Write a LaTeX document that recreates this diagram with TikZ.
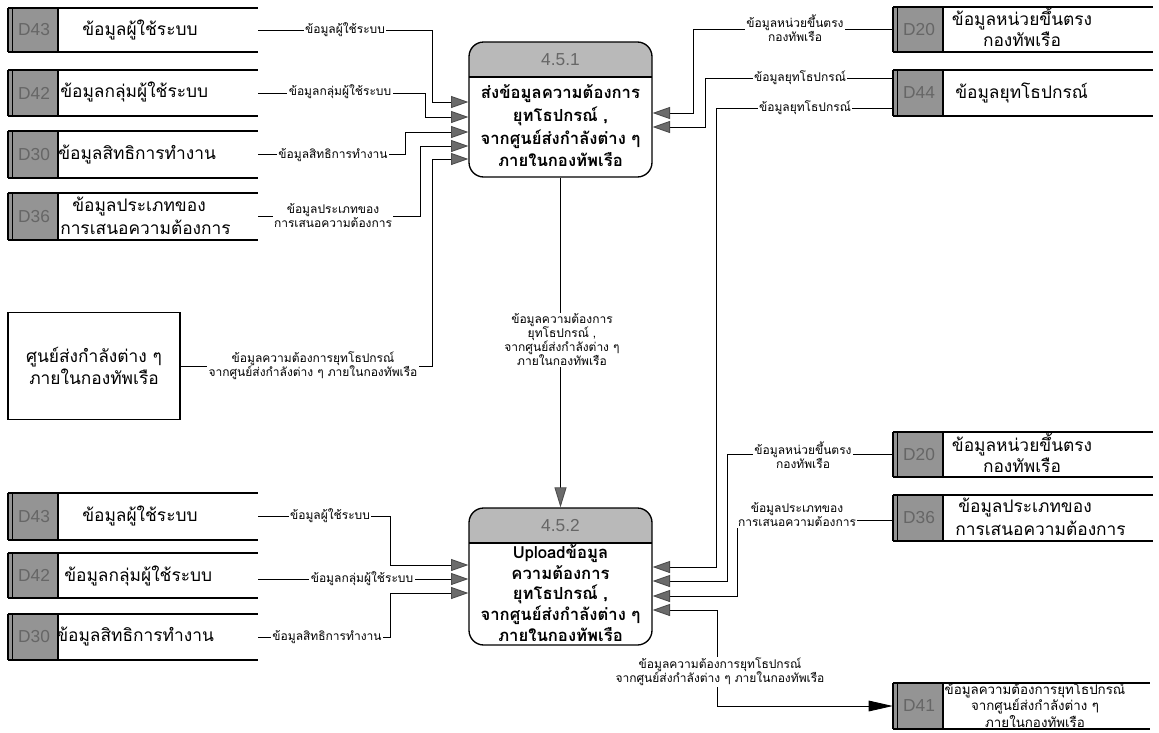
\documentclass[tikz,border=0pt]{standalone}
\usepackage{fontspec}
\setmainfont{Loma}[Script=Thai]
\newfontfamily\idfont{Liberation Sans}
\usetikzlibrary{arrows.meta}
\definecolor{idgray}{gray}{0.58}
\definecolor{arrgray}{gray}{0.42}
\tikzset{
  flow/.style={draw=black, line width=0.65pt},
  arr/.style={-{Triangle[length=13pt,width=9pt,fill=arrgray,color=arrgray!70!black]}},
  arrbig/.style={-{Triangle[length=15pt,width=9pt,fill=arrgray,color=arrgray!70!black]}},
  lab/.style={fill=white, inner sep=1pt, align=center, font=\fontsize{9}{10.5}\selectfont},
  stname/.style={anchor=west, inner sep=0pt, font=\fontsize{13}{16}\selectfont},
  stc/.style={inner sep=0pt, align=center, font=\fontsize{13}{16}\selectfont},
  idlab/.style={inner sep=0pt, text=black!60, font=\idfont\fontsize{13}{13}\selectfont},
  ptext/.style={inner sep=0pt, align=center, font=\bfseries\fontsize{12.5}{17}\selectfont},
}
% #1 name, #2 id, #3 xleft, #4 xright, #5 ytop, #6 ybottom
\newcommand{\dstore}[6]{%
  \fill[idgray] (#3,#5) rectangle ({#3+50},#6);
  \draw[line width=0.8pt] ({#3+50},#5) -- ({#3+50},#6);
  \draw[line width=1.4pt] (#3,#5) -- (#3,#6);
  \draw[line width=0.6pt] ({#3+4},#5) -- ({#3+4},#6);
  \draw[line width=1.4pt] (#3,#5) -- (#4,#5) (#3,#6) -- (#4,#6);
  \node[idlab] (#1-id) at ({#3+26},{(#5+#6)/2}) {#2};
  \node[inner sep=0pt, minimum width={(#4-#3)*0.75pt}, minimum height={(#6-#5)*0.75pt}] (#1) at ({(#3+#4)/2},{(#5+#6)/2}) {};
}
% #1 name, #2 x1, #3 y1, #4 x2, #5 y2, #6 yheader, #7 number
\newcommand{\procbox}[7]{%
  \begin{scope}
    \clip[rounded corners=11pt] (#2,#3) rectangle (#4,#5);
    \fill[gray!55] (#2,#3) rectangle (#4,#6);
  \end{scope}
  \draw[line width=1pt] (#2,#6) -- (#4,#6);
  \node[draw, line width=1pt, rounded corners=11pt, inner sep=0pt, minimum width={(#4-#2)*0.75pt}, minimum height={(#5-#3)*0.75pt}] (#1) at ({(#2+#4)/2},{(#3+#5)/2}) {};
  \node[idlab, text=black!60, font=\idfont\fontsize{13}{13}\selectfont] (#1-num) at ({(#2+#4)/2},{(#3+#6)/2}) {#7};
}
\begin{document}
\begin{tikzpicture}[x=0.75pt,y=-0.75pt]
\useasboundingbox[fill=white] (0,0) rectangle (1159,732);

% ---------- data stores ----------
\dstore{L43}{D43}{8}{258}{8}{52}
\dstore{L42}{D42}{8}{258}{70}{116}
\dstore{L30}{D30}{8}{258}{131}{178}
\dstore{L36}{D36}{8}{258}{193}{240}
\dstore{B43}{D43}{8}{258}{493}{540}
\dstore{B42}{D42}{8}{258}{553}{598}
\dstore{B30}{D30}{8}{258}{614}{660}
\dstore{R20}{D20}{893}{1153}{7}{52}
\dstore{R44}{D44}{893}{1153}{70}{116}
\dstore{M20}{D20}{893}{1153}{432}{477}
\dstore{M36}{D36}{893}{1153}{495}{541}
\dstore{D41}{D41}{893}{1150}{683}{729}

\node[stname] (L43-t) at (82,30) {ข้อมูลผู้ใช้ระบบ};
\node[stname] (L42-t) at (60,92) {ข้อมูลกลุ่มผู้ใช้ระบบ};
\node[stname] (L30-t) at (58,155) {ข้อมูลสิทธิการทำงาน};
\node[stname] (L36-t1) at (72,207) {ข้อมูลประเภทของ};
\node[stname] (L36-t2) at (60,227) {การเสนอความต้องการ};
\node[stname] (B43-t) at (82,516) {ข้อมูลผู้ใช้ระบบ};
\node[stname] (B42-t) at (64,576) {ข้อมูลกลุ่มผู้ใช้ระบบ};
\node[stname] (B30-t) at (56,637) {ข้อมูลสิทธิการทำงาน};
\node[stc] (R20-t) at (1022,27) {ข้อมูลหน่วยขึ้นตรง\\กองทัพเรือ};
\node[stname] (R44-t) at (955,93) {ข้อมูลยุทโธปกรณ์};
\node[stc] (M20-t) at (1022,453) {ข้อมูลหน่วยขึ้นตรง\\กองทัพเรือ};
\node[stname] (M36-t1) at (958,508) {ข้อมูลประเภทของ};
\node[stname] (M36-t2) at (955,528) {การเสนอความต้องการ};
\node[stc, font=\fontsize{10}{11.5}\selectfont] (D41-t) at (1035,705) {ข้อมูลความต้องการยุทโธปกรณ์\\จากศูนย์ส่งกำลังต่าง ๆ\\ภายในกองทัพเรือ};

% ---------- external entity ----------
\node[draw, line width=0.9pt, inner sep=0pt, minimum width={172*0.75pt}, minimum height={107*0.75pt}, align=center, font=\fontsize{13}{17}\selectfont] (ext) at (94,366) {ศูนย์ส่งกำลังต่าง ๆ\\ภายในกองทัพเรือ};

% ---------- processes ----------
\procbox{p1}{469}{42}{652}{177}{77}{4.5.1}
\node[ptext] (p1-t) at (560.5,126) {ส่งข้อมูลความต้องการ\\ยุทโธปกรณ์ ,\\จากศูนย์ส่งกำลังต่าง ๆ\\ภายในกองทัพเรือ};
\procbox{p2}{469}{508}{652}{645}{543}{4.5.2}
\node[ptext, font=\bfseries\fontsize{12.5}{15.5}\selectfont] (p2-t) at (560.5,593) {Uploadข้อมูล\\ความต้องการ\\ยุทโธปกรณ์ ,\\จากศูนย์ส่งกำลังต่าง ๆ\\ภายในกองทัพเรือ};

% ---------- flows into 4.5.1 ----------
\draw[flow,arr] (L43.east) -| (432,102) -- (p1.west |- 432,102);
\draw[flow,arr] (L42.east) -| (425,117) -- (p1.west |- 425,117);
\draw[flow,arr] (L30.east) -| (405,132) -- (p1.west |- 405,132);
\draw[flow,arr] (L36.east) -| (420,146) -- (p1.west |- 420,146);
\draw[flow,arr] (ext.east) -| (432,159) -- (p1.west |- 432,159);
\draw[flow,arr] (R20.west) -| (693,113) -- (p1.east |- 693,113);
\draw[flow,arr] (R44.west |- 0,78) -| (705,127) -- (p1.east |- 705,127);

% ---------- 4.5.1 to 4.5.2 ----------
\draw[flow,arrbig] (p1.south) -- (p2.north);

% ---------- flows into 4.5.2 ----------
\draw[flow,arr] (B43.east) -| (390,565) -- (p2.west |- 390,565);
\draw[flow,arr] (B42.east |- 0,579) -- (p2.west |- 0,579);
\draw[flow,arr] (B30.east) -| (390,593) -- (p2.west |- 390,593);
\draw[flow,arr] (R44.west |- 0,108) -| (716,567) -- (p2.east |- 716,567);
\draw[flow,arr] (M20.west) -| (727,581) -- (p2.east |- 727,581);
\draw[flow,arr] (M36.west |- 0,520) -| (737,596) -- (p2.east |- 737,596);
\draw[flow,{Triangle[length=13pt,width=9pt,fill=arrgray,color=arrgray!70!black]}-{Triangle[length=18pt,width=8pt,fill=black]}] (p2.east |- 0,610) -| (717,706) -- (D41.west);

% ---------- flow labels ----------
\node[lab] (la1) at (345,30) {ข้อมูลผู้ใช้ระบบ};
\node[lab] (la2) at (340,92) {ข้อมูลกลุ่มผู้ใช้ระบบ};
\node[lab] (la3) at (333,155) {ข้อมูลสิทธิการทำงาน};
\node[lab] (la4) at (333,216) {ข้อมูลประเภทของ\\การเสนอความต้องการ};
\node[lab] (la5) at (313,366) {ข้อมูลความต้องการยุทโธปกรณ์\\จากศูนย์ส่งกำลังต่าง ๆ ภายในกองทัพเรือ};
\node[lab] (la6) at (562,340) {ข้อมูลความต้องการ\\ยุทโธปกรณ์ ,\\จากศูนย์ส่งกำลังต่าง ๆ\\ภายในกองทัพเรือ};
\node[lab] (la7) at (795,28) {ข้อมูลหน่วยขึ้นตรง\\กองทัพเรือ};
\node[lab] (la8) at (800,78) {ข้อมูลยุทโธปกรณ์};
\node[lab] (la9) at (805,108) {ข้อมูลยุทโธปกรณ์};
\node[lab] (la10) at (803,455) {ข้อมูลหน่วยขึ้นตรง\\กองทัพเรือ};
\node[lab] (la11) at (797,515) {ข้อมูลประเภทของ\\การเสนอความต้องการ};
\node[lab] (la12) at (330,516) {ข้อมูลผู้ใช้ระบบ};
\node[lab] (la13) at (362,579) {ข้อมูลกลุ่มผู้ใช้ระบบ};
\node[lab] (la14) at (327,637) {ข้อมูลสิทธิการทำงาน};
\node[lab] (la15) at (720,672) {ข้อมูลความต้องการยุทโธปกรณ์\\จากศูนย์ส่งกำลังต่าง ๆ ภายในกองทัพเรือ};
\end{tikzpicture}
\end{document}
